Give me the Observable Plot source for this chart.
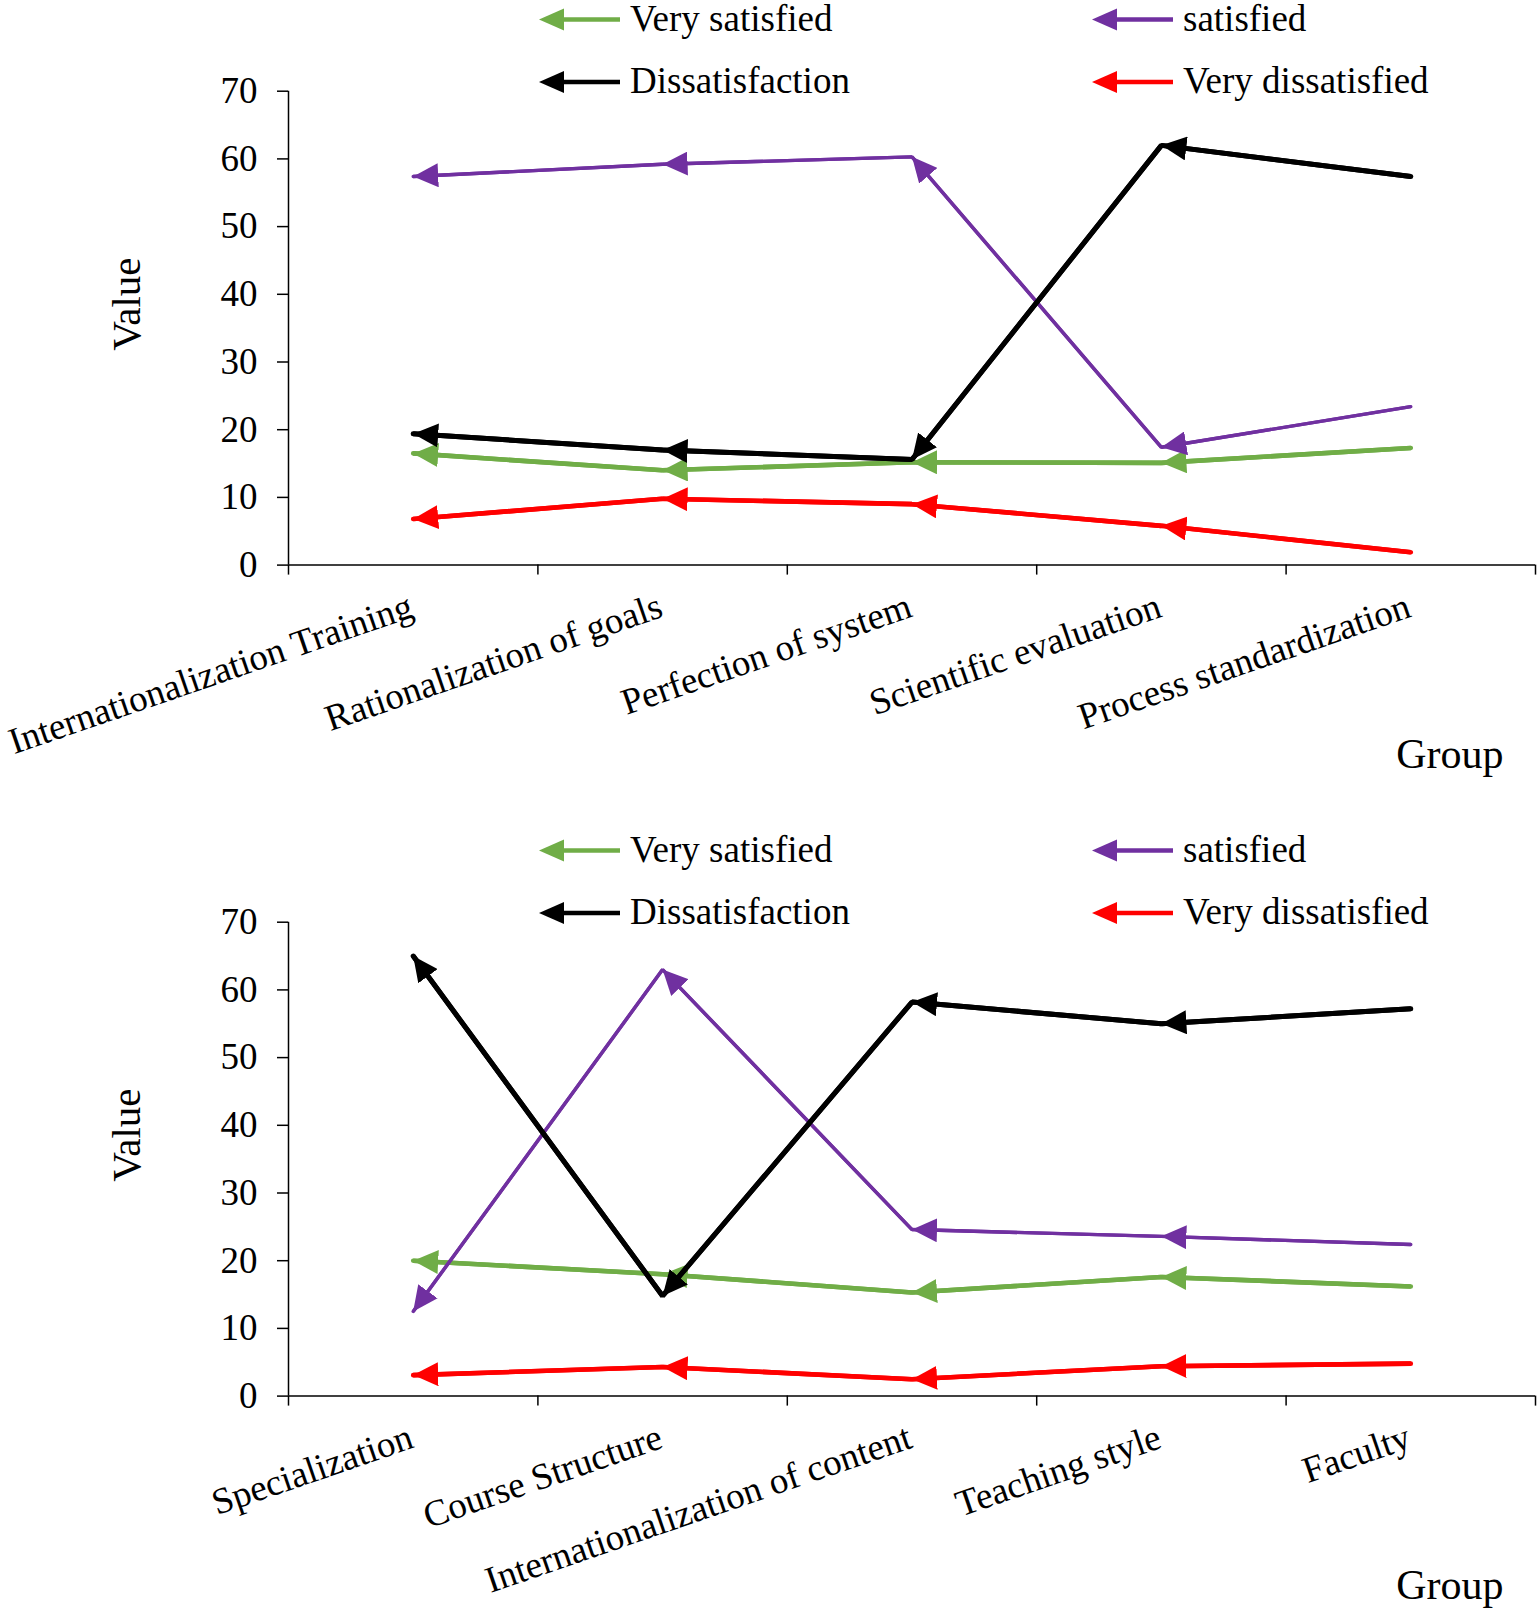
<!DOCTYPE html>
<html>
<head>
<meta charset="utf-8">
<script src="https://cdn.jsdelivr.net/npm/d3@7"></script>
<script src="https://cdn.jsdelivr.net/npm/@observablehq/plot@0.6"></script>
<style>
  html, body { margin: 0; padding: 0; background: #fff; }
  .panel { position: relative; width: 1537px; }
  .panel > svg { position: absolute; left: 0; top: 0; overflow: visible; }
  .panel > svg.legend { pointer-events: none; }
</style>
</head>
<body>
<div id="root"></div>
<script>
// ---------- data ----------
const seriesNames = ["Very satisfied", "satisfied", "Dissatisfaction", "Very dissatisfied"];

const topCategories = ["Internationalization Training", "Rationalization of goals", "Perfection of system", "Scientific evaluation", "Process standardization"];
const topVerySatisfied    = [16.5, 14.0, 15.2, 15.1, 17.3];
const topSatisfied        = [57.4, 59.2, 60.3, 17.4, 23.4];
const topDissatisfaction  = [19.4, 17.0, 15.6, 62.0, 57.4];
const topVeryDissatisfied = [6.8, 9.8, 9.0, 5.8, 1.9];

const bottomCategories = ["Specialization", "Course Structure", "Internationalization of content", "Teaching style", "Faculty"];
const bottomVerySatisfied    = [20.0, 18.0, 15.3, 17.6, 16.2];
const bottomSatisfied        = [12.5, 63.0, 24.6, 23.6, 22.4];
const bottomDissatisfaction  = [65.0, 14.8, 58.2, 55.0, 57.2];
const bottomVeryDissatisfied = [3.1, 4.3, 2.5, 4.4, 4.8];

const yTicks = [0, 10, 20, 30, 40, 50, 60, 70];
const xAxisLabel = "Group";
const yAxisLabel = "Value";

// ---------- style ----------
const seriesColors = ["#70AD47", "#7030A0", "#000000", "#FF0000"];
const seriesWidths = [4.6, 3.4, 5, 4.6];
const FONT = '"Liberation Serif", "Times New Roman", serif';

function restyleMarkers(svg) {
  d3.select(svg).selectAll("marker").each(function () {
    const m = d3.select(this);
    const c = m.attr("stroke");
    m.attr("viewBox", "-25 -12 25 24")
      .attr("markerWidth", 25)
      .attr("markerHeight", 24)
      .attr("markerUnits", "userSpaceOnUse")
      .attr("orient", "auto")
      .attr("fill", c)
      .attr("stroke", "none");
    m.selectAll("*").remove();
    m.append("path").attr("d", "M0,0L-25,-12L-25,12Z");
  });
}

function makeLegend() {
  const svg = d3.create("svg")
    .attr("class", "legend")
    .attr("width", 1537)
    .attr("height", 110)
    .style("font-family", FONT);
  const spots = [
    {x: 539, y: 19.5}, {x: 1092, y: 19.5},
    {x: 539, y: 82}, {x: 1092, y: 82}
  ];
  seriesNames.forEach((name, s) => {
    const {x, y} = spots[s];
    const g = svg.append("g");
    g.append("line")
      .attr("x1", x + 10).attr("x2", x + 81)
      .attr("y1", y).attr("y2", y)
      .attr("stroke", seriesColors[s])
      .attr("stroke-width", 4.6);
    g.append("path")
      .attr("d", `M${x},${y}L${x + 25},${y - 11}L${x + 25},${y + 11}Z`)
      .attr("fill", seriesColors[s]);
    g.append("text")
      .attr("x", x + 91).attr("y", y + 11)
      .attr("font-size", 37)
      .attr("fill", "#000")
      .text(name);
  });
  return svg.node();
}

function makePanel(categories, seriesValues, height) {
  const boundaries = d3.range(categories.length + 1);
  const marks = [
    Plot.axisY({ticks: yTicks, tickSize: 11, tickPadding: 20, fontSize: 37, label: null, strokeWidth: 1.5}),
    Plot.axisX({ticks: boundaries, tickSize: 10, tickFormat: () => "", label: null, strokeWidth: 1.5}),
    Plot.ruleX([0], {stroke: "#000", strokeWidth: 1.5}),
    Plot.ruleY([0], {stroke: "#000", strokeWidth: 1.5})
  ];
  seriesValues.forEach((vals, s) => {
    const pts = vals.map((v, i) => ({x: i + 0.5, y: v}));
    const segs = vals.slice(1).map((v, j) => ({x1: j + 1.5, y1: v, x2: j + 0.5, y2: vals[j]}));
    marks.push(Plot.line(pts, {x: "x", y: "y", stroke: seriesColors[s], strokeWidth: seriesWidths[s], strokeLinejoin: "miter"}));
    marks.push(Plot.link(segs, {x1: "x1", y1: "y1", x2: "x2", y2: "y2", stroke: seriesColors[s], strokeWidth: seriesWidths[s], markerEnd: "arrow"}));
  });
  marks.push(Plot.text(categories, {
    x: (d, i) => i + 0.5, y: () => 0, text: d => d,
    rotate: -19, textAnchor: "end", lineAnchor: "bottom",
    dx: 2, dy: 51, fontSize: 37, fill: "#000"
  }));
  marks.push(Plot.text([xAxisLabel], {
    x: () => categories.length, y: () => 0, text: d => d,
    textAnchor: "end", lineAnchor: "bottom", dx: -32, dy: 203, fontSize: 42, fill: "#000"
  }));
  marks.push(Plot.text([yAxisLabel], {
    frameAnchor: "left", text: d => d, rotate: -90,
    textAnchor: "middle", lineAnchor: "bottom", dx: -149, dy: -24, fontSize: 41, fill: "#000"
  }));

  const svg = Plot.plot({
    width: 1537,
    height,
    marginLeft: 288,
    marginRight: 2,
    marginTop: 90.7,
    marginBottom: height - 564.6,
    x: {type: "linear", domain: [0, categories.length], axis: null},
    y: {domain: [0, 70], axis: null},
    style: {fontFamily: FONT, color: "#000", background: "#fff", overflow: "visible"},
    marks
  });
  restyleMarkers(svg);

  const div = document.createElement("div");
  div.className = "panel";
  div.style.height = height + "px";
  div.appendChild(svg);
  div.appendChild(makeLegend());
  return div;
}

const root = document.getElementById("root");
root.appendChild(makePanel(topCategories,
  [topVerySatisfied, topSatisfied, topDissatisfaction, topVeryDissatisfied], 831));
root.appendChild(makePanel(bottomCategories,
  [bottomVerySatisfied, bottomSatisfied, bottomDissatisfaction, bottomVeryDissatisfied], 781));
</script>
</body>
</html>
